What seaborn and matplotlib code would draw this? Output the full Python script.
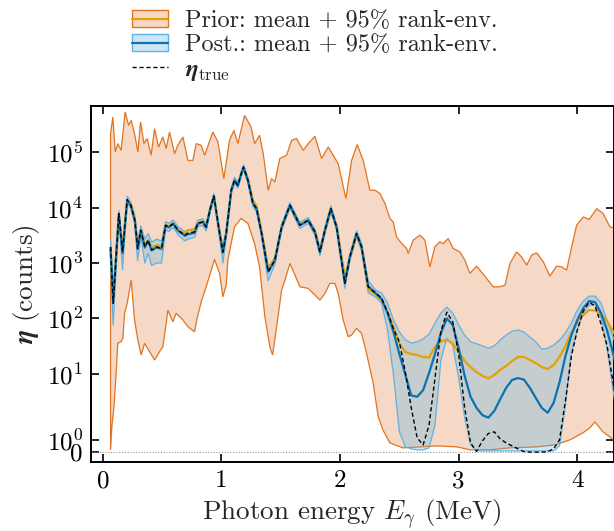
import numpy as np
import matplotlib
matplotlib.use("Agg")
import matplotlib.pyplot as plt
from matplotlib.patches import Patch
from matplotlib.lines import Line2D
from matplotlib.legend_handler import HandlerTuple
from matplotlib.ticker import NullLocator
import seaborn as sns

# ---------------------------------------------------------------------------
# Spectrum data (photon energy in MeV, counts)
# ---------------------------------------------------------------------------

# Prior 95% rank envelope, upper edge
e_prior_up = [0.065, 0.084, 0.104, 0.126, 0.154, 0.188, 0.217, 0.239, 0.267, 0.295,
              0.318, 0.346, 0.374, 0.407, 0.436, 0.470, 0.506, 0.534, 0.562, 0.605,
              0.632, 0.675, 0.717, 0.759, 0.787, 0.829, 0.858, 0.927, 0.970, 1.020,
              1.068, 1.105, 1.138, 1.195, 1.250, 1.279, 1.321, 1.352, 1.394, 1.422,
              1.450, 1.492, 1.549, 1.591, 1.633, 1.689, 1.731, 1.788, 1.844, 1.900,
              1.984, 2.049, 2.097, 2.144, 2.195, 2.251, 2.293, 2.336, 2.378, 2.420,
              2.448, 2.476, 2.519, 2.561, 2.574, 2.616, 2.673, 2.715, 2.757, 2.799,
              2.841, 2.869, 2.911, 2.954, 3.010, 3.052, 3.094, 3.151, 3.179, 3.235,
              3.291, 3.347, 3.390, 3.432, 3.488, 3.530, 3.573, 3.615, 3.657, 3.713,
              3.769, 3.825, 3.868, 3.910, 3.952, 3.994, 4.050, 4.100, 4.163, 4.218,
              4.275, 4.320]
prior_up = [2.16e5, 4.31e5, 1.01e5, 1.43e5, 1.08e5, 5.3e5, 3.05e5, 3.76e5, 2.16e5, 1.01e5,
            3.5e5, 1.43e5, 1.76e5, 8.8e4, 2.66e5, 1.24e5, 1.88e5, 1.16e5, 2.31e5, 9.4e4,
            1.33e5, 1.88e5, 7.1e4, 7.1e4, 1.43e5, 1.33e5, 8.8e4, 2.31e5, 1.53e5, 3.34e4,
            1.64e5, 2.48e5, 1.43e5, 4.62e5, 2.84e5, 1.43e5, 2.02e5, 9.4e4, 2.06e4, 3.34e4,
            2.9e4, 7.7e4, 8.8e4, 1.64e5, 1.76e5, 1.08e5, 1.43e5, 1.93e5, 7.7e4, 1.24e5,
            6.2e4, 1.46e4, 7.1e4, 1.37e5, 7.1e4, 2.06e4, 2.06e4, 1.8e4, 1.19e4, 6.4e3,
            5.5e3, 2.97e3, 2.25e3, 1.83e3, 1.49e3, 2.59e3, 3.18e3, 2.59e3, 855, 1.96e3,
            2.41e3, 2.25e3, 2.77e3, 1.83e3, 1.59e3, 1.13e3, 650, 880, 745, 528,
            373, 373, 400, 984, 1.59e3, 1.29e3, 917, 1.39e3, 1.53e3, 1.05e3,
            580, 880, 855, 745, 1.96e3, 4.82e3, 6.8e3, 6.1e3, 9.6e3, 7.8e3,
            4.49e3, 4.25e3]

# Prior 95% rank envelope, lower edge
e_prior_lo = [0.065, 0.076, 0.093, 0.112, 0.126, 0.154, 0.169, 0.183, 0.205, 0.239,
              0.267, 0.295, 0.323, 0.352, 0.394, 0.436, 0.478, 0.506, 0.534, 0.548,
              0.590, 0.618, 0.675, 0.717, 0.773, 0.795, 0.829, 0.871, 0.942, 0.984,
              1.012, 1.040, 1.054, 1.110, 1.166, 1.223, 1.279, 1.321, 1.366, 1.408,
              1.431, 1.465, 1.507, 1.535, 1.577, 1.661, 1.731, 1.788, 1.830, 1.872,
              1.914, 1.956, 1.984, 2.026, 2.068, 2.097, 2.139, 2.181, 2.223, 2.279,
              2.321, 2.361, 2.420, 2.530, 2.673, 2.816, 2.985, 3.094, 3.263, 3.432,
              3.659, 3.811, 3.938, 4.047, 4.106, 4.148, 4.216, 4.320]
prior_lo = [0.19, 2.08, 3.65, 10.3, 35.6, 38.1, 43.8, 124, 187, 492,
            94, 40.8, 21.9, 35.6, 25.2, 17.8, 25.2, 30.9, 81.6, 142,
            87.2, 124, 94, 70.9, 57.5, 100, 200, 373, 1160, 650,
            246, 400, 1130, 4490, 6370, 5170, 2250, 855, 107, 30.9,
            21.9, 70.9, 325, 492, 984, 373, 349, 264, 215, 283,
            429, 429, 283, 94, 46.8, 50.2, 66.3, 53.8, 23.5, 6.8,
            2.89, 1.81, 0.75, 0.35, 0.43, 0.51, 0.43, 0.19, 0.19, 0.35,
            0.43, 0.59, 1.0, 1.57, 1.97, 2.46, 1.65, 0.9]

# Common energy grid for the means, the posterior envelope and the true spectrum
energy = [0.065, 0.087, 0.135, 0.166, 0.205, 0.236, 0.270, 0.293, 0.320, 0.354,
          0.382, 0.411, 0.453, 0.495, 0.529, 0.556, 0.593, 0.635, 0.691, 0.717,
          0.773, 0.801, 0.843, 0.871, 0.902, 0.936, 0.984, 1.012, 1.040, 1.082,
          1.110, 1.138, 1.172, 1.186, 1.223, 1.265, 1.296, 1.338, 1.394, 1.450,
          1.507, 1.577, 1.661, 1.731, 1.788, 1.830, 1.872, 1.922, 1.971, 2.040,
          2.083, 2.139, 2.181, 2.237,
          2.30, 2.35, 2.40, 2.45, 2.50, 2.55, 2.60, 2.65, 2.70, 2.75,
          2.80, 2.85, 2.90, 2.95, 3.00, 3.05, 3.10, 3.15, 3.20, 3.25,
          3.30, 3.35, 3.40, 3.45, 3.50, 3.55, 3.60, 3.65, 3.70, 3.75,
          3.80, 3.85, 3.90, 3.95, 4.00, 4.05, 4.10, 4.15, 4.20, 4.25, 4.32]

eta_true = [1930, 187, 7830, 1590, 14000, 11000, 5930, 1830, 3920, 1960,
            2590, 1710, 1960, 1830, 4820, 4490, 5170, 3920, 3180, 3460,
            3650, 5240, 5530, 4490, 8980, 16300, 3460, 1590, 3460, 20600,
            31200, 25300, 44000, 54100, 31200, 11900, 9640, 3460, 694, 1130,
            4490, 11000, 4820, 5930, 3650, 1590, 3920, 9640, 4490, 429,
            1290, 3410, 1960, 373,
            287, 233, 130, 65, 37.6, 10.8, 3.6, 1.16, 0.59, 2.2,
            8.4, 59, 130, 86, 21.9, 3.6, 0.75, 0.06, 0.92, 1.52,
            1.65, 1.08, 0.75, 0.51, 0.27, 0.05, 0.0, 0.0, 0.0, 0.04,
            0.27, 1.0, 4.2, 21, 62, 136, 197, 167, 79, 33, 4.6]

prior_mean = [1700, 230, 7300, 1800, 13000, 11500, 6300, 2000, 3900, 2100,
              2600, 1900, 2100, 2000, 4900, 4600, 5200, 3900, 3400, 3900,
              4100, 5300, 5600, 4600, 8800, 15500, 3700, 1800, 3500, 19500,
              30000, 26000, 42000, 51000, 32000, 13500, 10500, 3800, 800, 1200,
              4300, 10500, 5000, 5700, 3800, 1800, 3700, 9000, 4600, 560,
              1250, 3100, 2000, 330,
              275, 215, 130, 70, 35, 24.8, 22.8, 21.9, 20.2, 19.8,
              30.5, 39, 41, 35, 24.8, 17.1, 13.3, 10.8, 9.2, 8.3,
              9.6, 11.8, 13.9, 17.1, 20.2, 20.2, 17.8, 15.7, 13.3, 12.2,
              14.5, 20.2, 31.8, 55, 86, 115, 142, 139, 120, 90, 50]

post_mean = [1900, 200, 7600, 1500, 13500, 11000, 5800, 1800, 3800, 1900,
             2500, 1700, 1900, 1800, 4700, 4400, 5100, 3800, 3100, 3300,
             3500, 5100, 5500, 4400, 8800, 16000, 3400, 1550, 3400, 20000,
             31000, 25000, 44000, 53000, 31000, 12000, 9500, 3400, 700, 1100,
             4400, 11000, 4800, 5900, 3600, 1600, 3900, 9500, 4400, 440,
             1300, 3400, 1950, 380,
             287, 224, 125, 57, 22.8, 9.6, 4.6, 4.5, 5.1, 10.4,
             22.8, 55, 100, 76, 29, 9.2, 4.5, 3.6, 3.0, 2.8,
             3.35, 4.3, 5.6, 7.8, 8.4, 7.9, 5.6, 4.4, 3.6, 3.2,
             4.0, 7.1, 21, 50, 94, 154, 206, 197, 125, 62, 16.4]

post_up = [2600, 330, 8800, 2100, 16000, 12500, 6800, 2400, 4700, 2700,
           3400, 2400, 2700, 2500, 5600, 5200, 6000, 4500, 3700, 3900,
           4100, 5900, 6300, 5100, 10000, 18000, 4000, 2000, 4000, 23000,
           35000, 28500, 49000, 59000, 35000, 13500, 10800, 3900, 820, 1300,
           5000, 12300, 5400, 6600, 4100, 1850, 4400, 10700, 5000, 520,
           1480, 3800, 2250, 480,
           325, 287, 189, 94, 57, 41, 36, 38, 43, 52,
           83, 125, 160, 125, 76, 50, 38, 35, 32, 29,
           32, 41, 50, 59, 62, 57, 46, 38, 28, 29,
           33, 41, 55, 83, 142, 206, 253, 253, 189, 94, 36]

post_lo = [1150, 76, 6600, 750, 12000, 9600, 5000, 1100, 3000, 1000,
           1500, 900, 1000, 1000, 4000, 3700, 4400, 3200, 2500, 2700,
           2900, 4500, 4800, 3800, 7800, 14500, 2900, 1000, 2900, 18000,
           28000, 22500, 40000, 48000, 28000, 10500, 8400, 3000, 480, 950,
           3900, 9800, 4200, 5200, 3200, 1350, 3400, 8500, 3900, 350,
           1120, 3000, 1650, 290,
           243, 189, 62, 9.6, 1.65, 0.43, 0.27, 0.19, 0.19, 0.35,
           2.2, 17.8, 44, 33, 8.4, 2.8, 0.59, 0.15, 0.1, 0.1,
           0.1, 0.1, 0.1, 0.1, 0.1, 0.1, 0.1, 0.1, 0.1, 0.1,
           0.1, 0.51, 3.8, 24.8, 62, 125, 174, 174, 102, 29, 3.8]

x_ticks = [0, 1, 2, 3, 4]
y_ticks = [0, 1, 10, 100, 1000, 10000, 100000]
y_tick_labels = ["0", r"$10^{0}$", r"$10^{1}$", r"$10^{2}$", r"$10^{3}$",
                 r"$10^{4}$", r"$10^{5}$"]

label_prior = "Prior: mean + 95% rank-env."
label_post = "Post.: mean + 95% rank-env."
label_true = r"$\mathbfit{\eta}_{\mathrm{true}}$"

# ---------------------------------------------------------------------------
# Styling
# ---------------------------------------------------------------------------
sns.set_theme(style="ticks")
plt.rcParams.update({
    "font.family": "serif",
    "font.serif": ["cmr10"],
    "mathtext.fontset": "custom",
    "mathtext.rm": "cmr10",
    "mathtext.it": "cmmi10",
    "mathtext.bf": "cmb10",
    "mathtext.bfit": "STIXGeneral:italic:bold",
    "mathtext.fallback": "cm",
    "axes.formatter.use_mathtext": True,
    "axes.edgecolor": "black",
    "axes.linewidth": 1.4,
})

c_prior_edge = "#E2741F"
c_prior_fill = "#F5D8C5"
c_prior_mean = "#E6A000"
c_post_edge = "#62B1E0"
c_post_fill = "#56B4E9"
c_post_mean = "#0A72B0"

fig = plt.figure(figsize=(6.14, 5.31), dpi=100)
ax = fig.add_axes([0.1482, 0.1299, 0.8510, 0.6704])
ax.set_yscale("symlog", linthresh=5, linscale=1)

# prior envelope
ax.fill(np.concatenate([e_prior_up, e_prior_lo[::-1]]),
        np.concatenate([prior_up, prior_lo[::-1]]),
        facecolor=c_prior_fill, edgecolor=c_prior_edge, lw=0.9, zorder=1)

# posterior envelope
ax.fill(np.concatenate([energy, energy[::-1]]),
        np.concatenate([post_up, post_lo[::-1]]),
        facecolor=c_post_fill, alpha=0.3, edgecolor="none", zorder=2)
sns.lineplot(x=energy, y=post_up, ax=ax, color=c_post_edge, lw=0.9,
             estimator=None, sort=False, zorder=3)
sns.lineplot(x=energy, y=post_lo, ax=ax, color=c_post_edge, lw=0.9,
             estimator=None, sort=False, zorder=3)

ax.axhline(0, color="#999999", lw=0.8, ls=(0, (1, 1.5)), zorder=2.5)

# means and truth
sns.lineplot(x=energy, y=prior_mean, ax=ax, color=c_prior_mean, lw=1.6,
             estimator=None, sort=False, zorder=4)
sns.lineplot(x=energy, y=post_mean, ax=ax, color=c_post_mean, lw=1.6,
             estimator=None, sort=False, zorder=5)
sns.lineplot(x=energy, y=eta_true, ax=ax, color="black", lw=1.0,
             linestyle=(0, (3, 2)), estimator=None, sort=False, zorder=6)

ax.set_xlim(-0.1, 4.305)
ax.set_ylim(-0.8, 6.8e5)
ax.set_xticks(x_ticks)
ax.set_xticklabels([str(t) for t in x_ticks])
ax.set_yticks(y_ticks)
ax.set_yticklabels(y_tick_labels)
ax.xaxis.set_minor_locator(NullLocator())
ax.yaxis.set_minor_locator(NullLocator())
ax.tick_params(direction="in", top=True, right=True, length=6, width=1.2,
               labelsize=18, pad=6, colors="black")
for s in ax.spines.values():
    s.set_visible(True)
    s.set_color("black")
    s.set_linewidth(1.4)

ax.set_xlabel(r"Photon energy $E_\gamma$ (MeV)", fontsize=19.5, labelpad=4)
ax.set_ylabel(r"$\mathbfit{\eta}$ (counts)", fontsize=19.5, labelpad=3)

h_prior = (Patch(facecolor=c_prior_fill, edgecolor=c_prior_edge, lw=1.0),
           Line2D([], [], color=c_prior_mean, lw=1.6))
h_post = (Patch(facecolor=(0.337, 0.706, 0.914, 0.3), edgecolor=c_post_edge, lw=1.0),
          Line2D([], [], color=c_post_mean, lw=1.6))
h_true = Line2D([], [], color="black", lw=1.0, linestyle=(0, (3, 2)))
fig.legend([h_prior, h_post, h_true], [label_prior, label_post, label_true],
           loc="upper center", bbox_to_anchor=(0.513, 1.0225), frameon=False,
           fontsize=17.5, handlelength=1.5, handletextpad=0.7, labelspacing=0.09,
           handler_map={tuple: HandlerTuple(ndivide=1)})

fig.savefig("out.png", dpi=100)
